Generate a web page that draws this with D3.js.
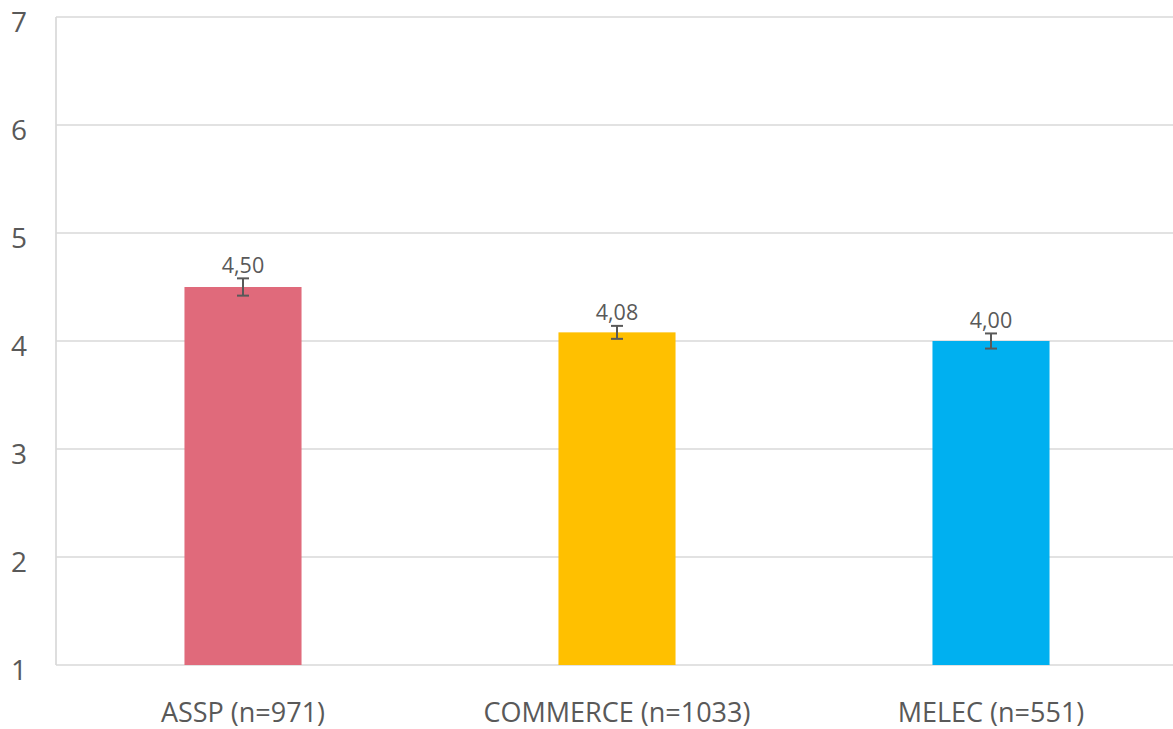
<!DOCTYPE html>
<html><head><meta charset="utf-8">
<script src="https://cdn.jsdelivr.net/npm/d3@7"></script>
<style>body{margin:0;background:#fff;overflow:hidden}svg{display:block}text{font-family:"Open Sans",sans-serif;fill:#595959}</style>
</head><body><svg id="c" width="1173" height="729"></svg>
<script>
const categories = ["ASSP (n=971)", "COMMERCE (n=1033)", "MELEC (n=551)"];
const values = [4.50, 4.08, 4.00];
const errors = [0.08, 0.06, 0.07];
const valueLabels = ["4,50", "4,08", "4,00"];
const colors = ["#E06A7B", "#FFC000", "#00B0F0"];
const yTicks = [1, 2, 3, 4, 5, 6, 7];

(function () {
const svg = d3.select("#c");
const mLeft = 56, mRight = 1178, mTop = 17, mBottom = 665;
const x = d3.scaleBand().domain(categories).range([mLeft, mRight]).paddingInner(0.687).paddingOuter(0.3435);
const y = d3.scaleLinear().domain([1, 7]).range([mBottom, mTop]);

// gridlines
svg.append("g").selectAll("line").data(yTicks).join("line")
  .attr("x1", mLeft).attr("x2", mRight).attr("y1", d => y(d)).attr("y2", d => y(d))
  .attr("stroke", "#d9d9d9").attr("stroke-width", 1.7);
svg.append("line").attr("x1", mLeft).attr("x2", mLeft).attr("y1", mTop).attr("y2", mBottom)
  .attr("stroke", "#d9d9d9").attr("stroke-width", 1.7);

// y tick labels
svg.append("g").selectAll("text").data(yTicks).join("text")
  .attr("x", 27).attr("y", d => y(d) + 14.5).attr("text-anchor", "end")
  .attr("font-size", 28).text(d => d);

// bars
svg.append("g").selectAll("rect").data(values).join("rect")
  .attr("x", (d, i) => x(categories[i])).attr("width", x.bandwidth())
  .attr("y", d => y(d)).attr("height", d => y(1) - y(d))
  .attr("fill", (d, i) => colors[i]);

// error bars
const eb = svg.append("g").attr("stroke", "#595959").attr("stroke-width", 2);
values.forEach((v, i) => {
  const cx = x(categories[i]) + x.bandwidth() / 2;
  const y1 = y(v + errors[i]), y2 = y(v - errors[i]);
  eb.append("line").attr("x1", cx).attr("x2", cx).attr("y1", y1).attr("y2", y2);
  eb.append("line").attr("x1", cx - 6).attr("x2", cx + 6).attr("y1", y1).attr("y2", y1);
  eb.append("line").attr("x1", cx - 6).attr("x2", cx + 6).attr("y1", y2).attr("y2", y2);
});

// value labels
svg.append("g").selectAll("text").data(values).join("text")
  .attr("x", (d, i) => x(categories[i]) + x.bandwidth() / 2)
  .attr("y", (d, i) => y(d + errors[i]) - 5.5)
  .attr("text-anchor", "middle").attr("font-size", 21.5)
  .text((d, i) => valueLabels[i]);

// category labels
svg.append("g").selectAll("text").data(categories).join("text")
  .attr("x", d => x(d) + x.bandwidth() / 2).attr("y", 721.5)
  .attr("text-anchor", "middle").attr("font-size", 27).text(d => d);
})();
</script></body></html>
